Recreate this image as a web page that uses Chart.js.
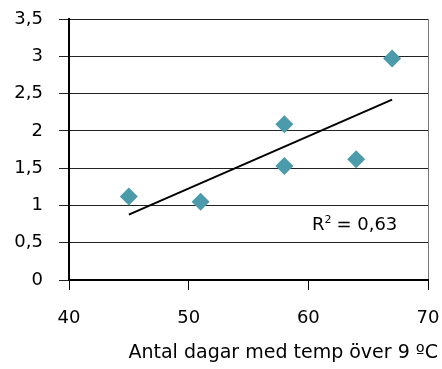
<!DOCTYPE html>
<html>
<head>
<meta charset="utf-8">
<script src="https://cdn.jsdelivr.net/npm/chart.js@4"></script>
<style>
  html, body { margin: 0; padding: 0; background: #fff; }
  #wrap { width: 442px; height: 369px; }
</style>
</head>
<body>
<div id="wrap"><canvas id="chart"></canvas></div>
<script>
const days = [45, 51, 58, 58, 64, 67];
const values = [1.12, 1.05, 2.09, 1.53, 1.62, 2.97];
const xTicks = [40, 50, 60, 70];
const yTicks = [0, 0.5, 1, 1.5, 2, 2.5, 3, 3.5];
const r2Value = '0,63';
const xTitle = 'Antal dagar med temp över 9 ºC';

// least squares trendline from the points
function trend(xs, ys) {
    const n = xs.length;
    const mx = xs.reduce((a, b) => a + b, 0) / n;
    const my = ys.reduce((a, b) => a + b, 0) / n;
    let sxy = 0, sxx = 0;
    for (let i = 0; i < n; i++) {
        sxy += (xs[i] - mx) * (ys[i] - my);
        sxx += (xs[i] - mx) * (xs[i] - mx);
    }
    const k = sxy / sxx;
    const m = my - k * mx;
    const x0 = Math.min(...xs), x1 = Math.max(...xs);
    return [{x: x0, y: k * x0 + m}, {x: x1, y: k * x1 + m}];
}

const FONT = 'DejaVu Sans';
const fmt = v => String(v).replace('.', ',');

const extraText = {
    id: 'extraText',
    afterDatasetsDraw(chart) {
        const {ctx, scales: {x, y}} = chart;
        ctx.save();
        ctx.fillStyle = '#000';
        ctx.textBaseline = 'middle';
        // R² label
        ctx.font = '18px "' + FONT + '"';
        const px = x.getPixelForValue(60.3);
        const py = y.getPixelForValue(0.73);
        ctx.fillText('R', px, py);
        const w = ctx.measureText('R').width;
        ctx.font = '11px "' + FONT + '"';
        ctx.fillText('2', px + w, py - 5);
        ctx.font = '18px "' + FONT + '"';
        ctx.fillText('= ' + r2Value, px + w + 12, py);
        // axis title
        ctx.font = '19px "' + FONT + '"';
        ctx.textAlign = 'right';
        ctx.fillText(xTitle, chart.width - 4, chart.height - 16);
        ctx.restore();
    }
};

new Chart(document.getElementById('chart'), {
    type: 'scatter',
    data: {
        datasets: [
            {
                label: 'Data',
                data: days.map((d, i) => ({x: d, y: values[i]})),
                pointStyle: 'rectRot',
                pointRadius: 9,
                pointHoverRadius: 9,
                backgroundColor: '#4c9bab',
                borderColor: '#4c9bab',
                borderWidth: 0
            },
            {
                label: 'Trend',
                type: 'line',
                data: trend(days, values),
                borderColor: '#000',
                borderWidth: 2,
                pointRadius: 0,
                fill: false
            }
        ]
    },
    options: {
        responsive: true,
        maintainAspectRatio: false,
        animation: false,
        layout: {padding: {left: 0, top: 19, right: 14, bottom: 0}},
        plugins: {
            legend: {display: false},
            tooltip: {enabled: false}
        },
        scales: {
            x: {
                type: 'linear',
                min: 40,
                max: 70,
                afterBuildTicks: (s) => { s.ticks = xTicks.map(v => ({value: v})); },
                afterFit: (s) => { s.height = 89; s.paddingLeft = 0; s.paddingRight = 0; },
                border: {color: '#000', width: 2},
                grid: {
                    color: c => (c.tick && c.tick.value === 70) ? '#777' : 'rgba(0,0,0,0)',
                    tickColor: '#000',
                    tickLength: 10
                },
                ticks: {
                    color: '#000',
                    padding: 18,
                    font: {family: FONT, size: 18},
                    callback: v => fmt(v)
                }
            },
            y: {
                min: 0,
                max: 3.5,
                afterBuildTicks: (s) => { s.ticks = yTicks.map(v => ({value: v})); },
                afterFit: (s) => { s.width = 69; s.paddingTop = 0; s.paddingBottom = 0; },
                border: {color: '#000', width: 2},
                grid: {
                    color: '#222',
                    tickColor: '#222',
                    tickLength: 10
                },
                ticks: {
                    color: '#000',
                    padding: 16,
                    font: {family: FONT, size: 18},
                    callback: v => fmt(v)
                }
            }
        }
    },
    plugins: [extraText]
});
</script>
</body>
</html>
